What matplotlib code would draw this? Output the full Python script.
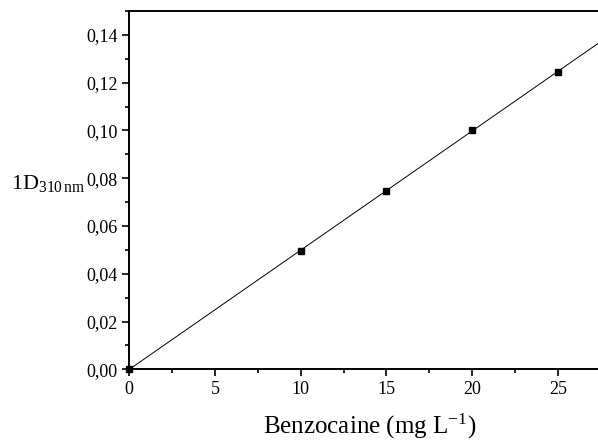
import numpy as np
import matplotlib
matplotlib.use("Agg")
import matplotlib.pyplot as plt
from matplotlib.ticker import FuncFormatter, MultipleLocator

plt.rcParams['font.family'] = ['Liberation Serif', 'DejaVu Serif']
plt.rcParams['mathtext.fontset'] = 'custom'
plt.rcParams['mathtext.rm'] = 'Liberation Serif'
plt.rcParams['mathtext.it'] = 'Liberation Serif:italic'

concentration = [0, 10, 15, 20, 25]
signal = [0.0, 0.0497, 0.0748, 0.1002, 0.1244]
x_ticks = [0, 5, 10, 15, 20, 25]
y_ticks = [0.00, 0.02, 0.04, 0.06, 0.08, 0.10, 0.12, 0.14]

slope, intercept = np.polyfit(concentration, signal, 1)

fig = plt.figure(figsize=(5.98, 4.43), dpi=100)
ax = fig.add_axes([0.2162, 0.1663, 0.8026, 0.809])

xfit = np.array([0, 28])
ax.plot(xfit, slope * xfit + intercept, color='black', lw=0.7)
ax.plot(concentration, signal, 's', color='black', ms=5, clip_on=False, zorder=5)

ax.set_xlim(0, 28)
ax.set_ylim(0, 0.15)
ax.set_xticks(x_ticks)
ax.set_yticks(y_ticks)
ax.xaxis.set_minor_locator(MultipleLocator(2.5))
ax.yaxis.set_minor_locator(MultipleLocator(0.01))
ax.xaxis.set_major_formatter(FuncFormatter(lambda v, p: f"{v:.0f}"))
ax.yaxis.set_major_formatter(FuncFormatter(lambda v, p: f"{v:.2f}".replace('.', ',')))

ax.tick_params(which='both', direction='out', top=False, right=False, width=1.2, labelsize=13)
ax.tick_params(which='major', length=5)
ax.tick_params(which='minor', length=3)
for s in ax.spines.values():
    s.set_linewidth(1.4)
ax.spines['right'].set_visible(False)

ax.set_xlabel('Benzocaine (mg L$^{\\mathregular{-1}}$)', fontsize=18, labelpad=10)
fig.text(0.018, 0.585, '1D$_{\\mathregular{310\\,nm}}$', fontsize=16, ha='left', va='center')

fig.savefig('out.png', dpi=100)
